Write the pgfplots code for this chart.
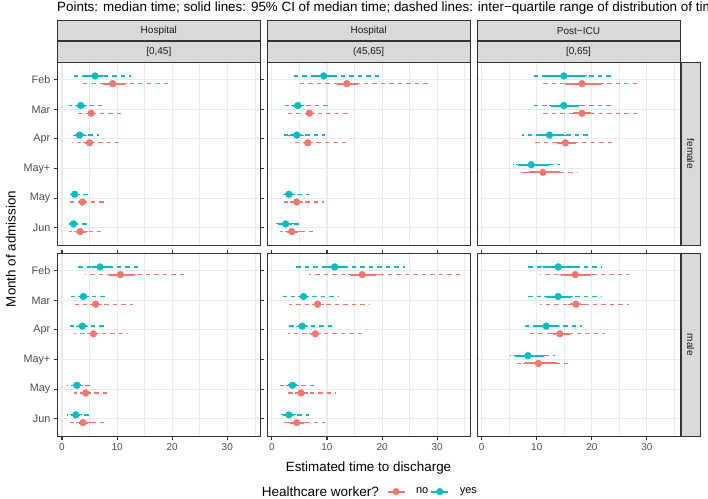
\documentclass[border=0pt]{standalone}
\usepackage{fontspec}
\setmainfont{Liberation Sans}
\usepackage{pgfplots}
\usepackage{pgfplotstable}
\pgfplotsset{compat=1.18}
\definecolor{hred}{HTML}{F8766D}
\definecolor{hcyan}{HTML}{00BFC4}
\definecolor{gr92}{HTML}{EBEBEB}
\definecolor{gr20}{HTML}{333333}
\definecolor{gr30}{HTML}{4D4D4D}
\definecolor{gr10}{HTML}{1A1A1A}
\definecolor{gr85}{HTML}{D9D9D9}

% Hospital [0,45], female
\pgfplotstableread{
y med cilo cihi qlo qhi
0.87 6.0 4.2 7.4 2.2 12.5
1.87 3.4 2.7 4.2 1.3 7.2
2.87 3.2 2.4 4.2 2.1 6.7
4.87 2.3 2.0 2.8 0.8 5.0
5.87 2.1 1.6 2.6 1.0 4.6
}\AFy
\pgfplotstableread{
y med cilo cihi qlo qhi
1.13 9.2 7.5 11.5 3.4 19.5
2.13 5.3 4.8 5.8 2.6 11.2
3.13 5.0 4.2 5.7 1.9 10.4
5.13 3.7 3.2 4.2 1.4 7.6
6.13 3.3 2.6 4.4 1.2 7.1
}\AFn
% Hospital (45,65], female
\pgfplotstableread{
y med cilo cihi qlo qhi
0.87 9.4 7.9 11.0 3.75 20.0
1.87 4.7 3.9 5.5 1.7 10.2
2.87 4.5 3.3 5.5 1.7 9.6
4.87 3.1 2.4 3.9 1.9 6.7
5.87 2.5 1.2 3.6 1.0 5.5
}\BFy
\pgfplotstableread{
y med cilo cihi qlo qhi
1.13 13.6 11.8 15.6 5.1 28.8
2.13 6.8 6.4 7.4 2.6 14.5
3.13 6.5 6.0 7.1 3.3 13.7
5.13 4.5 3.6 5.3 1.6 9.5
6.13 3.6 2.8 4.8 1.4 7.9
}\BFn
% Post-ICU [0,65], female
\pgfplotstableread{
y med cilo cihi qlo qhi
0.87 14.9 11.6 18.8 9.0 23.4
1.87 14.9 12.6 17.7 9.0 23.4
2.87 12.3 10.3 14.9 7.3 19.6
3.87 9.0 6.6 12.3 5.6 14.2
}\CFy
\pgfplotstableread{
y med cilo cihi qlo qhi
1.13 18.2 15.1 21.9 10.7 28.7
2.13 18.2 16.6 19.9 10.7 28.7
3.13 15.2 13.7 17.1 9.6 23.9
4.13 11.1 8.5 14.3 6.9 17.3
}\CFn
% Hospital [0,45], male
\pgfplotstableread{
y med cilo cihi qlo qhi
0.87 6.9 5.5 8.7 2.6 14.5
1.87 3.9 3.3 4.5 1.7 8.4
2.87 3.7 2.9 4.3 1.4 7.8
4.87 2.7 2.0 3.4 1.0 5.7
5.87 2.5 1.8 3.2 0.9 5.3
}\AMy
\pgfplotstableread{
y med cilo cihi qlo qhi
1.13 10.6 8.6 13.0 4.2 22.4
2.13 6.1 5.4 6.8 2.4 12.9
3.13 5.7 5.0 6.3 2.1 12.0
5.13 4.3 3.6 4.9 2.1 8.9
6.13 3.8 3.0 4.8 1.5 8.2
}\AMn
% Hospital (45,65], male
\pgfplotstableread{
y med cilo cihi qlo qhi
0.87 11.4 9.6 13.3 4.2 24.1
1.87 5.75 5.1 6.4 2.0 12.2
2.87 5.5 4.7 6.2 2.9 11.5
4.87 3.75 3.0 4.5 1.3 8.0
5.87 3.1 2.1 4.05 1.9 6.7
}\BMy
\pgfplotstableread{
y med cilo cihi qlo qhi
1.13 16.4 14.2 18.9 6.7 34.4
2.13 8.3 7.7 9.0 3.1 17.6
3.13 7.9 7.1 8.6 2.9 16.7
5.13 5.3 4.5 6.1 2.8 11.5
6.13 4.5 3.2 5.75 1.6 9.6
}\BMn
% Post-ICU [0,65], male
\pgfplotstableread{
y med cilo cihi qlo qhi
0.87 13.9 11.1 17.3 8.2 21.9
1.87 13.9 11.7 16.2 8.2 21.9
2.87 11.7 9.7 13.9 7.8 18.2
3.87 8.4 6.1 11.3 5.1 13.3
}\CMy
\pgfplotstableread{
y med cilo cihi qlo qhi
1.13 17.0 14.4 19.9 10.5 26.8
2.13 17.1 16.1 18.1 10.5 26.8
3.13 14.2 13.0 16.0 8.4 22.3
4.13 10.3 7.8 13.6 6.2 16.2
}\CMn

\newcommand{\iqr}[2]{%
 \addplot[color=#2, forget plot, only marks, mark=none,
   error bars/.cd, x dir=both, x explicit, error mark=none,
   error bar style={line width=1.3pt, dash pattern=on 4.5pt off 4pt}]
   table[x=med, y=y, x error plus expr={\thisrow{qhi}-\thisrow{med}}, x error minus expr={\thisrow{med}-\thisrow{qlo}}] {#1};
}
\newcommand{\ci}[2]{%
 \addplot[color=#2, only marks, mark=*, mark size=3.4pt, mark options={draw=#2, fill=#2},
   error bars/.cd, x dir=both, x explicit,
   error bar style={line width=2pt}, error mark options={line width=1.1pt, mark size=2.1pt}]
   table[x=med, y=y, x error plus expr={\thisrow{cihi}-\thisrow{med}}, x error minus expr={\thisrow{med}-\thisrow{cilo}}] {#1};
}

\pgfplotsset{
 panel/.style={scale only axis, width=203pt, height=183.5pt, anchor=south west,
   xmin=-0.85, xmax=36.0, ymin=0.4, ymax=6.6, y dir=reverse,
   xtick={0,10,20,30}, minor xtick={5,15,25,35}, ytick={1,2,3,4,5,6},
   xticklabels={0,10,20,30}, yticklabels={Feb,Mar,Apr,May+,May,Jun},
   grid=both, major grid style={line width=1.07pt, color=gr92},
   minor grid style={line width=0.53pt, color=gr92},
   axis line style={line width=0.9pt, color=gr20},
   tick align=outside, major tick length=3.5pt, minor tick length=0pt,
   tick style={line width=1.07pt, color=gr20},
   tick label style={font=\fontsize{10}{12}\selectfont, text=gr30},
   yticklabel style={font=\fontsize{10.8}{13}\selectfont},
   /pgf/number format/assume math mode=true},
 notx/.style={xticklabels={}, xtick style={draw=none}},
 noty/.style={yticklabels={}, ytick style={draw=none}},
}

\tikzset{strip/.style={fill=gr85, draw=gr20, line width=0.9pt},
 striptext/.style={font=\fontsize{10}{12}\selectfont, text=gr10}}

\begin{document}
\begin{tikzpicture}
\useasboundingbox (0pt,0pt) rectangle (708pt,498pt);
\clip (0pt,0pt) rectangle (708pt,498pt);

\node[anchor=base west, font=\fontsize{13.4}{15}\selectfont, inner sep=0pt] at (57pt,486.5pt) {Points: median time; solid lines: 95\% CI of median time; dashed lines: inter−quartile range of distribution of time};

% top row (female)
\begin{axis}[panel, notx, at={(57.3pt,252.5pt)}]
\iqr{\AFn}{hred}\iqr{\AFy}{hcyan}\ci{\AFn}{hred}\ci{\AFy}{hcyan}
\end{axis}
\begin{axis}[panel, notx, noty, at={(267.2pt,252.5pt)}]
\iqr{\BFn}{hred}\iqr{\BFy}{hcyan}\ci{\BFn}{hred}\ci{\BFy}{hcyan}
\end{axis}
\begin{axis}[panel, notx, noty, at={(477pt,252.5pt)}]
\iqr{\CFn}{hred}\iqr{\CFy}{hcyan}\ci{\CFn}{hred}\ci{\CFy}{hcyan}
\end{axis}
% bottom row (male)
\begin{axis}[panel, at={(57.3pt,61.5pt)}]
\iqr{\AMn}{hred}\iqr{\AMy}{hcyan}\ci{\AMn}{hred}\ci{\AMy}{hcyan}
\end{axis}
\begin{axis}[panel, noty, at={(267.2pt,61.5pt)},
  legend entries={no,yes},
  legend columns=-1,
  legend image code/.code={\draw[line width=2pt] (0pt,0pt) -- (17pt,0pt); \fill (8.5pt,0pt) circle (3.3pt);},
  legend style={at={(axis description cs:0.587,-0.30)}, anchor=west, draw=none, fill=none, inner sep=0pt,
    font=\fontsize{11}{13}\selectfont, /tikz/every odd column/.append style={column sep=8.5pt}}]
\iqr{\BMn}{hred}\iqr{\BMy}{hcyan}\ci{\BMn}{hred}\ci{\BMy}{hcyan}
\end{axis}
\begin{axis}[panel, noty, at={(477pt,61.5pt)}]
\iqr{\CMn}{hred}\iqr{\CMy}{hcyan}\ci{\CMn}{hred}\ci{\CMy}{hcyan}
\end{axis}

% column strips
\draw[strip] (57.3pt,457.2pt) rectangle (260.3pt,477.5pt);
\node[striptext] at (158.8pt,467.35pt) {Hospital};
\draw[strip] (57.3pt,436pt) rectangle (260.3pt,456.2pt);
\node[striptext] at (158.8pt,446.1pt) {[0,45]};
\draw[strip] (267.2pt,457.2pt) rectangle (470.2pt,477.5pt);
\node[striptext] at (368.7pt,467.35pt) {Hospital};
\draw[strip] (267.2pt,436pt) rectangle (470.2pt,456.2pt);
\node[striptext] at (368.7pt,446.1pt) {(45,65]};
\draw[strip] (477pt,457.2pt) rectangle (680pt,477.5pt);
\node[striptext] at (578.5pt,467.35pt) {Post−ICU};
\draw[strip] (477pt,436pt) rectangle (680pt,456.2pt);
\node[striptext] at (578.5pt,446.1pt) {[0,65]};
% row strips
\draw[strip] (681pt,252.5pt) rectangle (700.5pt,436pt);
\node[striptext, rotate=-90] at (690.75pt,344.25pt) {female};
\draw[strip] (681pt,61.5pt) rectangle (700.5pt,245pt);
\node[striptext, rotate=-90] at (690.75pt,153.25pt) {male};

% titles
\node[rotate=90, anchor=base, font=\fontsize{13.4}{15}\selectfont] at (15.5pt,249pt) {Month of admission};
\node[anchor=base, font=\fontsize{13.4}{15}\selectfont] at (368.5pt,26.5pt) {Estimated time to discharge};
\node[anchor=base west, font=\fontsize{13.5}{15}\selectfont, inner sep=0pt] at (261.7pt,1.8pt) {Healthcare worker?};
\end{tikzpicture}
\end{document}
